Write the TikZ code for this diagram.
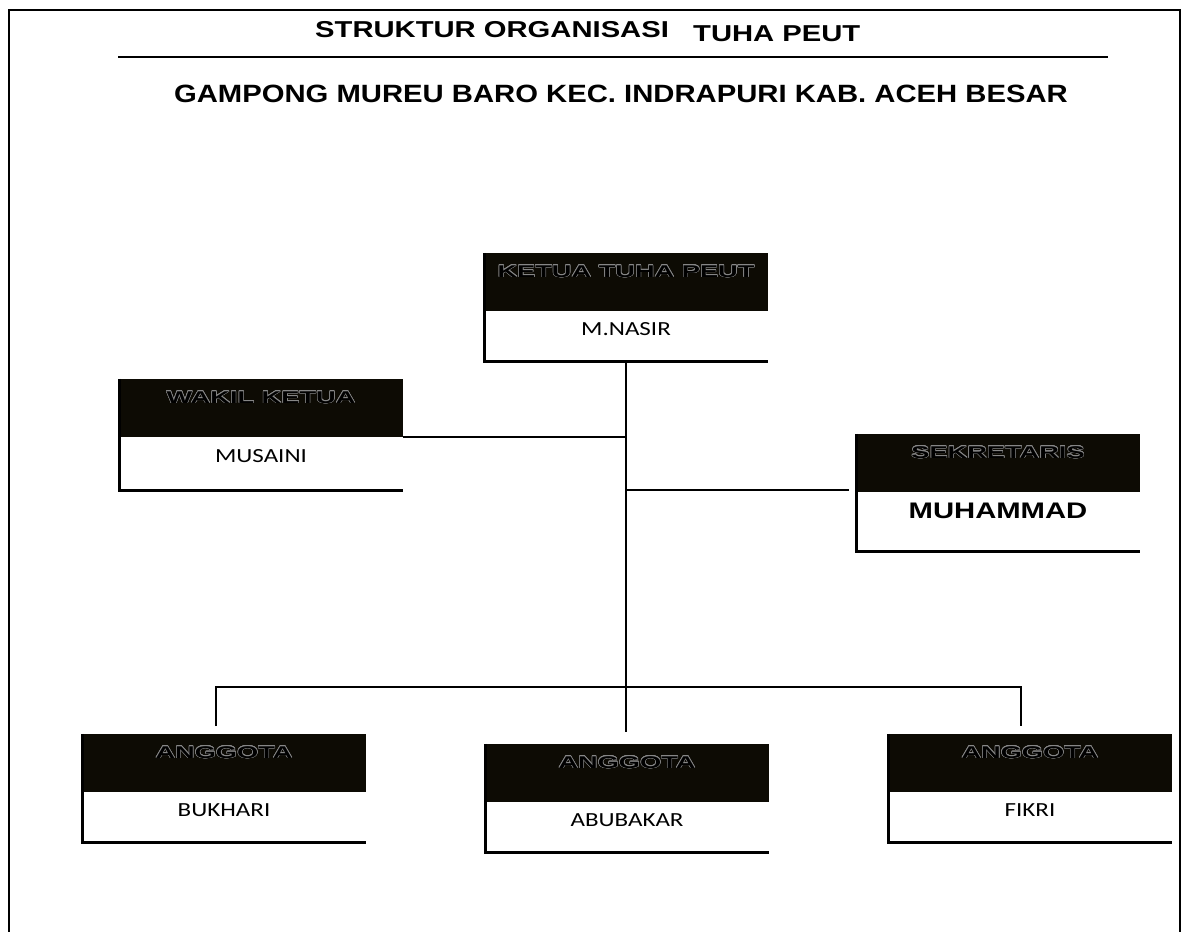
\documentclass[tikz,border=0pt]{standalone}
\usepackage{fontspec}
\usepackage{contour}
\usepackage{tikz}
\usetikzlibrary{positioning}
\setmainfont{Liberation Sans}
\newfontfamily\titlefont[FakeStretch=1.27]{Liberation Sans}
\newfontfamily\subfont[FakeStretch=1.17]{Liberation Sans}
\newfontfamily\boldnamefont[FakeStretch=1.3]{Liberation Sans}
\newfontfamily\headfont[FakeStretch=1.6]{Liberation Sans}
\newfontfamily\namefont[FakeStretch=1.25]{Carlito}
\definecolor{headblack}{RGB}{13,11,4}
\definecolor{outl}{RGB}{135,135,135}
\contourlength{0.5pt}

\begin{document}
\begin{tikzpicture}[x=1pt,y=-1pt,
    head/.style={rectangle,fill=headblack,minimum width=283pt,minimum height=58pt,inner sep=0pt,
      text height=12pt,text depth=22pt,font=\headfont\bfseries\fontsize{17}{20}\selectfont},
    body/.style={rectangle,fill=white,minimum width=283pt,minimum height=50pt,inner sep=0pt,
      text height=13pt,text depth=15pt,font=\namefont\fontsize{20}{24}\selectfont},
    title/.style={inner sep=0pt,font=\titlefont\bfseries\fontsize{23}{27}\selectfont},
    rim/.style={line width=3.5pt},
    link/.style={line width=2pt}]
                \useasboundingbox (0,0) rectangle (1187,932);
                \draw[line width=1.5pt] (9,932) -- (9,10) -- (1180,10) -- (1180,932);
                \node[title,anchor=base west] (title) at (315,37) {STRUKTUR ORGANISASI};
                \node[title,anchor=base west] (title2) at (693,41) {TUHA PEUT};
                \draw[line width=1.5pt] (118,57) -- (1108,57);
                \node[title,anchor=base,font=\subfont\bfseries\fontsize{25}{30}\selectfont] (subtitle) at (621,102)
                  {GAMPONG MUREU BARO KEC. INDRAPURI KAB. ACEH BESAR};
                \node[head] (ketua) at (626,282) {\contour{outl}{KETUA TUHA PEUT}};
                \node[body,below=0pt of ketua] (ketua-n) {M.NASIR};
                \node[head] (wakil) at (261,408) {\contour{outl}{WAKIL KETUA}};
                \node[body,below=0pt of wakil,minimum height=53pt] (wakil-n) {MUSAINI};
                \node[head] (sekretaris) at (998,463) {\contour{outl}{SEKRETARIS}};
                \node[body,below=0pt of sekretaris,minimum height=59pt,text height=16pt,text depth=23pt,
                  font=\boldnamefont\bfseries\fontsize{22.5}{27}\selectfont] (sekretaris-n) {MUHAMMAD};
                \node[head] (bukhari) at (224,763) {\contour{outl}{ANGGOTA}};
                \node[body,below=0pt of bukhari] (bukhari-n) {BUKHARI};
                \node[head] (abubakar) at (627,773) {\contour{outl}{ANGGOTA}};
                \node[body,below=0pt of abubakar] (abubakar-n) {ABUBAKAR};
                \node[head] (fikri) at (1030,763) {\contour{outl}{ANGGOTA}};
                \node[body,below=0pt of fikri] (fikri-n) {FIKRI};
                \foreach \b in {ketua,wakil,sekretaris,bukhari,abubakar,fikri}
                  \draw[rim] (\b.north west) -- (\b-n.south west) -- (\b-n.south east);
                \coordinate (trunk) at (626,732);
                \coordinate (busL) at (216,687);
                \coordinate (busR) at (1021,687);
                \coordinate (dropL) at (216,726);
                \coordinate (dropR) at (1021,726);
                \coordinate (sek-in) at (849,490);
                \draw[link] (ketua-n.south) -- (ketua-n.south |- trunk);
                \draw[link] (wakil.south east) -- (wakil.south east -| ketua-n.south);
                \draw[link] (sek-in) -- (sek-in -| ketua-n.south);
                \draw[link] (dropL) -- (busL) -- (busR) -- (dropR);
            \end{tikzpicture}
\end{document}
